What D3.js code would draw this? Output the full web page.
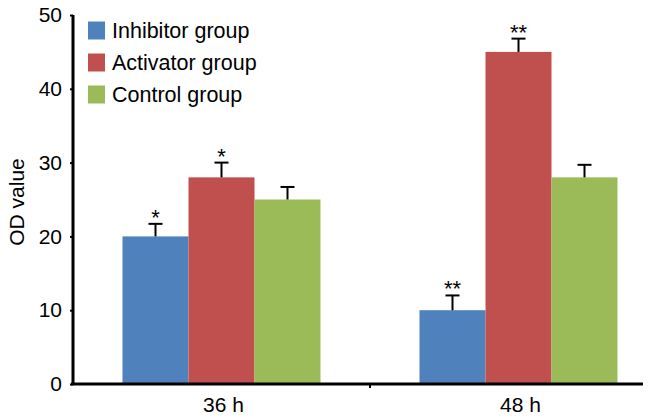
<!DOCTYPE html>
<html><head><meta charset="utf-8">
<script src="https://cdn.jsdelivr.net/npm/d3@7"></script>
<style>body{margin:0;background:#fff}svg{display:block}text{font-family:"Liberation Sans",Arial,sans-serif}</style>
</head><body><svg id="c" width="652" height="418"></svg>
<script>
const categories = ["36 h", "48 h"];
const seriesNames = ["Inhibitor group", "Activator group", "Control group"];
const inhibitor = [20, 10];
const activator = [28, 45];
const control = [25, 28];
const inhibitorErr = [1.7, 2.0];
const activatorErr = [2.0, 1.8];
const controlErr = [1.7, 1.7];
const inhibitorSig = ["*", "**"];
const activatorSig = ["*", "**"];
const controlSig = ["", ""];
const yTicks = [0, 10, 20, 30, 40, 50];
const colors = ["#4F81BD", "#C0504D", "#9BBB59"];

const series = [
  {name: seriesNames[0], values: inhibitor, err: inhibitorErr, sig: inhibitorSig},
  {name: seriesNames[1], values: activator, err: activatorErr, sig: activatorSig},
  {name: seriesNames[2], values: control, err: controlErr, sig: controlSig}
];

const svg = d3.select("#c");
const mLeft = 73, mRight = 667, mTop = 15, mBottom = 384;
const x = d3.scaleBand().domain(categories).range([mLeft, mRight]).paddingInner(0).paddingOuter(0);
const inner = d3.scaleBand().domain(seriesNames).range([0, x.bandwidth()]).paddingOuter(0.75).paddingInner(0);
const y = d3.scaleLinear().domain([0, 50]).range([mBottom, mTop]);

// bars
series.forEach((s, si) => {
  const g = svg.append("g");
  g.selectAll("rect").data(categories).join("rect")
    .attr("x", (c) => x(c) + inner(s.name))
    .attr("width", inner.bandwidth())
    .attr("y", (c, i) => y(s.values[i]))
    .attr("height", (c, i) => y(0) - y(s.values[i]))
    .attr("fill", colors[si]);
  categories.forEach((c, i) => {
    const cx = x(c) + inner(s.name) + inner.bandwidth() / 2;
    const y0 = y(s.values[i]), y1 = y(s.values[i] + s.err[i]);
    g.append("line").attr("x1", cx).attr("x2", cx).attr("y1", y0).attr("y2", y1).attr("stroke", "#000").attr("stroke-width", 2);
    g.append("line").attr("x1", cx - 7).attr("x2", cx + 7).attr("y1", y1).attr("y2", y1).attr("stroke", "#000").attr("stroke-width", 2);
    if (s.sig[i]) {
      g.append("text").attr("x", cx).attr("y", y1 + 1).attr("text-anchor", "middle")
        .attr("font-size", 22).attr("fill", "#000").text(s.sig[i]);
    }
  });
});

// y axis
const yAxis = svg.append("g").attr("transform", `translate(${mLeft},0)`)
  .call(d3.axisLeft(y).tickValues(yTicks).tickSize(3).tickPadding(8));
yAxis.select(".domain").attr("d", `M0,${mTop}V${mBottom}`).attr("stroke-width", 3);
yAxis.selectAll(".tick line").attr("stroke-width", 2);
yAxis.selectAll(".tick text").attr("font-size", 21).attr("fill", "#000").attr("font-family", "Liberation Sans, Arial, sans-serif");

// x axis
const xg = svg.append("g").attr("transform", `translate(0,${mBottom})`);
xg.append("line").attr("x1", mLeft - 2).attr("x2", 643).attr("y1", 0).attr("y2", 0).attr("stroke", "#000").attr("stroke-width", 3);
xg.append("line").attr("x1", x(categories[1])).attr("x2", x(categories[1])).attr("y1", 0).attr("y2", 4).attr("stroke", "#000").attr("stroke-width", 2);
xg.selectAll("text").data(categories).join("text")
  .attr("x", (c) => x(c) + x.bandwidth() / 2 + 2)
  .attr("y", 28).attr("text-anchor", "middle").attr("font-size", 21).attr("fill", "#000").text((c) => c);

// y label
svg.append("text").attr("transform", `translate(24,202) rotate(-90)`)
  .attr("text-anchor", "middle").attr("font-size", 21).attr("fill", "#000").text("OD value");

// legend
const lg = svg.append("g");
seriesNames.forEach((n, i) => {
  const cy = 30.5 + i * 32;
  lg.append("rect").attr("x", 88).attr("y", cy - 9).attr("width", 17).attr("height", 18).attr("fill", colors[i]);
  lg.append("text").attr("x", 112).attr("y", cy + 7.5).attr("font-size", 21.5).attr("fill", "#000").text(n);
});
</script></body></html>
